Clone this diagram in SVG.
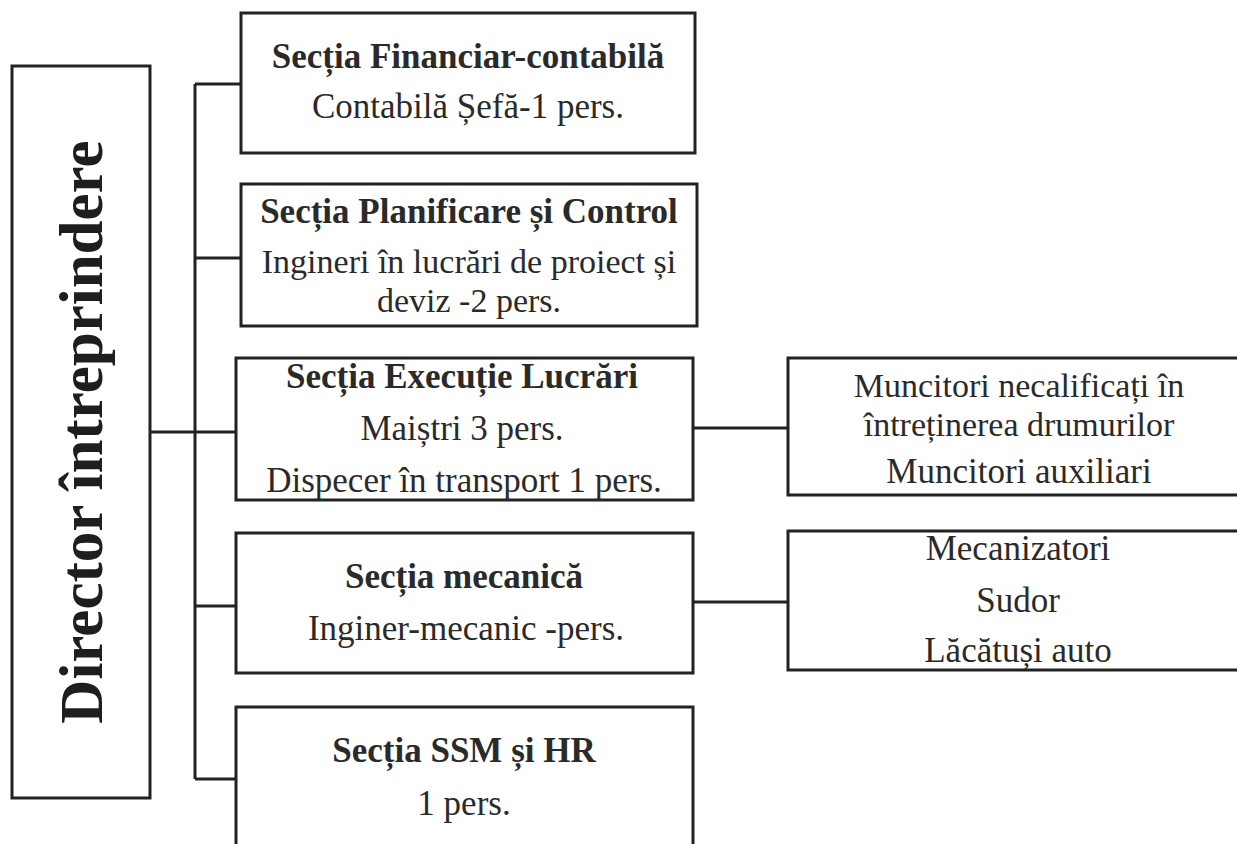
<svg xmlns="http://www.w3.org/2000/svg" width="1237" height="844" viewBox="0 0 1237 844">
<style>
.box{fill:#fff;stroke:#222;stroke-width:3}
.ln{stroke:#222;stroke-width:3;fill:none}
text{font-family:"Liberation Serif","Times New Roman",serif;fill:#2a2a2a;text-anchor:middle}
.b{font-weight:bold;font-size:35px}
.r{font-size:35px}
.t{font-size:34px}
.dir{font-weight:bold;font-size:61px;fill:#1e1e1e}
</style>
<rect width="1237" height="844" fill="#fff"/>
<g id="connectors">
<line class="ln" x1="150" y1="432" x2="236" y2="432"/>
<line class="ln" x1="195" y1="84" x2="195" y2="779"/>
<line class="ln" x1="195" y1="84" x2="241" y2="84"/>
<line class="ln" x1="195" y1="258" x2="241" y2="258"/>
<line class="ln" x1="195" y1="606" x2="236" y2="606"/>
<line class="ln" x1="195" y1="779" x2="236" y2="779"/>
<line class="ln" x1="693" y1="428" x2="788" y2="428"/>
<line class="ln" x1="693" y1="602" x2="788" y2="602"/>
</g>
<g id="director">
<rect class="box" x="12" y="66" width="138" height="732"/>
<text class="dir" transform="translate(102,432) rotate(-90)">Director întreprindere</text>
</g>
<g id="financiar">
<rect class="box" x="241" y="13" width="454" height="140"/>
<text class="b" x="468" y="68">Secția Financiar-contabilă</text>
<text class="r" x="468" y="118">Contabilă Șefă-1 pers.</text>
</g>
<g id="planificare">
<rect class="box" x="241" y="184" width="456" height="142"/>
<text class="b" x="469" y="223">Secția Planificare și Control</text>
<text class="t" x="469" y="273">Ingineri în lucrări de proiect și</text>
<text class="t" x="469" y="312">deviz -2 pers.</text>
</g>
<g id="executie">
<rect class="box" x="236" y="358" width="457" height="142"/>
<text class="b" x="462" y="388">Secția Execuție Lucrări</text>
<text class="r" x="462" y="440">Maiștri 3 pers.</text>
<text class="r" x="464" y="492">Dispecer în transport 1 pers.</text>
</g>
<g id="mecanica">
<rect class="box" x="236" y="533" width="457" height="140"/>
<text class="b" x="464" y="588">Secția mecanică</text>
<text class="r" x="466" y="640">Inginer-mecanic -pers.</text>
</g>
<g id="ssm">
<rect class="box" x="236" y="707" width="457" height="140"/>
<text class="b" x="464" y="762">Secția SSM și HR</text>
<text class="r" x="464" y="815">1 pers.</text>
</g>
<g id="muncitori">
<rect class="box" x="788" y="358" width="460" height="137"/>
<text class="t" x="1019" y="397">Muncitori necalificați în</text>
<text class="t" x="1019" y="436">întreținerea drumurilor</text>
<text class="r" x="1019" y="483">Muncitori auxiliari</text>
</g>
<g id="mecanizatori">
<rect class="box" x="788" y="531" width="460" height="139"/>
<text class="r" x="1018" y="560">Mecanizatori</text>
<text class="r" x="1018" y="612">Sudor</text>
<text class="r" x="1018" y="662">Lăcătuși auto</text>
</g>
</svg>
